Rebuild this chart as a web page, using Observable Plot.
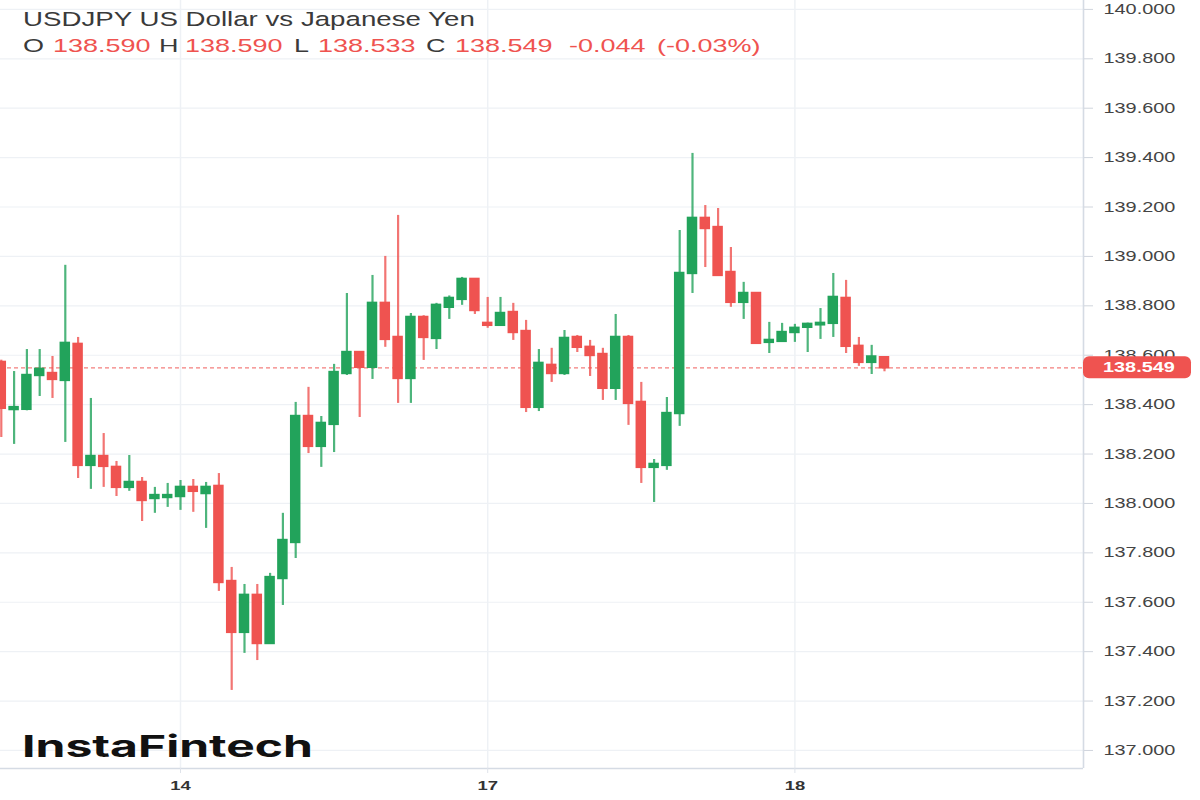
<!DOCTYPE html>
<html>
<head>
<meta charset="utf-8">
<script src="https://cdn.jsdelivr.net/npm/d3@7"></script>
<script src="https://cdn.jsdelivr.net/npm/@observablehq/plot@0.6"></script>
<style>
  html, body { margin: 0; padding: 0; background: #ffffff; }
  #chart { width: 1200px; height: 800px; overflow: hidden; }
</style>
</head>
<body>
<div id="chart"></div>
<script>
// ---- Data: hourly candles, offset in trading hours from "14" 00:00 ----
const hourOffset = [-14,-13,-12,-11,-10,-9,-8,-7,-6,-5,-4,-3,-2,-1,
  0,1,2,3,4,5,6,7,8,9,10,11,12,13,14,15,16,17,18,19,20,21,22,23,
  24,25,26,27,28,29,30,31,32,33,34,35,36,37,38,39,40,41,42,43,44,45,46,47,
  48,49,50,51,52,53,54,55];
const openP = [138.571,138.380,138.381,138.518,138.526,138.498,138.644,138.154,138.190,138.146,138.065,138.085,138.020,138.024,
  138.028,138.065,138.040,138.069,137.684,137.478,137.628,137.433,137.696,137.842,138.352,138.231,138.320,138.526,138.611,138.551,138.810,138.672,138.506,138.753,138.668,138.794,138.826,138.907,
  138.729,138.721,138.773,138.696,138.389,138.559,138.526,138.672,138.632,138.603,138.466,138.672,138.409,138.146,138.154,138.364,138.931,139.154,139.117,138.935,138.814,138.850,138.652,138.656,
  138.692,138.713,138.723,138.729,138.830,138.636,138.571,138.590];
const highP = [138.580,138.534,138.623,138.623,138.595,138.964,138.672,138.425,138.283,138.170,138.194,138.105,138.065,138.081,
  138.093,138.097,138.085,138.121,137.741,137.672,137.672,137.717,137.960,138.409,138.470,138.352,138.563,138.850,138.615,138.923,139.000,139.166,138.769,138.760,138.810,138.840,138.915,138.910,
  138.834,138.834,138.810,138.741,138.623,138.628,138.700,138.680,138.660,138.628,138.765,138.680,138.490,138.178,138.429,139.105,139.417,139.206,139.194,139.036,138.895,138.852,138.733,138.729,
  138.725,138.730,138.789,138.931,138.903,138.672,138.640,138.590];
const lowP = [138.267,138.239,138.375,138.433,138.425,138.247,138.101,138.057,138.065,138.028,138.049,137.927,137.960,137.984,
  137.972,137.964,137.899,137.644,137.243,137.393,137.364,137.430,137.587,137.777,138.202,138.146,138.206,138.518,138.348,138.502,138.632,138.405,138.405,138.579,138.623,138.745,138.802,138.765,
  138.709,138.718,138.660,138.368,138.372,138.490,138.518,138.611,138.514,138.417,138.417,138.316,138.081,138.004,138.134,138.312,138.850,138.955,138.920,138.794,138.745,138.644,138.607,138.655,
  138.652,138.611,138.664,138.672,138.607,138.555,138.522,138.533];
const closeP = [138.385,138.388,138.518,138.543,138.502,138.648,138.154,138.190,138.150,138.065,138.085,138.012,138.032,138.032,
  138.065,138.049,138.065,137.680,137.478,137.628,137.433,137.700,137.850,138.352,138.231,138.324,138.530,138.611,138.551,138.810,138.664,138.506,138.753,138.672,138.802,138.830,138.907,138.781,
  138.721,138.769,138.692,138.389,138.567,138.526,138.668,138.632,138.599,138.466,138.672,138.405,138.146,138.158,138.364,138.931,139.154,139.113,138.923,138.814,138.850,138.648,138.660,138.692,
  138.709,138.725,138.729,138.834,138.636,138.571,138.593,138.549];

const dayTickOffsets = [0, 24, 48];
const dayTickLabels = ["14", "17", "18"];
const priceTicks = [137.0,137.2,137.4,137.6,137.8,138.0,138.2,138.4,138.6,138.8,139.0,139.2,139.4,139.6,139.8,140.0];
const symbolName = "USDJPY US Dollar vs Japanese Yen";
const brand = "InstaFintech";

// ---- Build table ----
const candles = hourOffset.map((t, k) => ({
  t, o: openP[k], h: highP[k], l: lowP[k], c: closeP[k]
}));
const UP = "#22a35b", DOWN = "#ef5350";
const colorOf = d => d.c >= d.o ? UP : DOWN;
const last = candles[candles.length - 1];
const prev = candles[candles.length - 2];
const lastPrice = last.c;

const FONT = "'Liberation Sans', Arial, Helvetica, sans-serif";
const SX = 1.42; // horizontal stretch of the reference's glyphs

const plot = Plot.plot({
  width: 1200,
  height: 800,
  marginLeft: 0,
  marginRight: 117,
  marginTop: 0,
  marginBottom: 32,
  x: { domain: [-14.0625, 70.547], axis: null },
  y: { domain: [136.927, 140.036], axis: null },
  color: { type: "identity" },
  style: { background: "#ffffff", fontFamily: FONT, overflow: "visible" },
  marks: [
    Plot.gridY(priceTicks, { stroke: "#eef1f5", strokeOpacity: 1, strokeWidth: 1.2 }),
    Plot.gridX(dayTickOffsets, { stroke: "#eef1f5", strokeOpacity: 1, strokeWidth: 1.5 }),
    Plot.ruleY([lastPrice], { stroke: DOWN, strokeDasharray: "4,3", strokeOpacity: 0.75, strokeWidth: 1.2 }),
    Plot.ruleX(candles, { x: "t", y1: "l", y2: "h", stroke: colorOf, strokeWidth: 2.2, strokeOpacity: 0.8 }),
    Plot.rect(candles, {
      x1: d => d.t - 0.41, x2: d => d.t + 0.41,
      y1: d => Math.min(d.o, d.c), y2: d => Math.max(d.o, d.c),
      fill: colorOf, insetTop: -1.2, insetBottom: -1.2
    }),
    Plot.ruleX([70.547], { stroke: "#d5dbe4", strokeWidth: 1.6 }),
    Plot.ruleY([136.927], { stroke: "#d5dbe4", strokeWidth: 1.6 }),
    Plot.axisY(priceTicks, {
      anchor: "right", tickSize: 9, tickPadding: 11,
      tickFormat: d3.format(".3f"), fontSize: 14,
      stroke: "#d0d5dd", fill: "#444", label: null
    }),
    Plot.axisX(dayTickOffsets, {
      anchor: "bottom", tickSize: 5, tickPadding: 7,
      tickFormat: d => dayTickLabels[dayTickOffsets.indexOf(d)],
      fontSize: 13, fontWeight: "bold",
      stroke: "#dfe3ea", fill: "#333", label: null
    })
  ]
});

document.getElementById("chart").appendChild(plot);
const svg = d3.select(plot);

// stretch axis labels horizontally like the reference
svg.selectAll('g[aria-label="y-axis tick label"] text, g[aria-label="x-axis tick label"] text').each(function () {
  const t = d3.select(this);
  const tr = t.attr("transform") || "";
  t.attr("transform", tr + ` scale(${SX},1)`);
});
svg.selectAll('g[aria-label="x-axis tick label"] text').attr("font-weight", "bold");

function stretched(x, y, str, { size = 19, weight = 400, fill = "#333", anchor = "start", family = FONT, sx = SX } = {}) {
  const g = svg.append("g").attr("transform", `translate(${x},${y}) scale(${sx},1)`);
  g.append("text")
    .attr("font-family", family)
    .attr("font-size", size)
    .attr("font-weight", weight)
    .attr("fill", fill)
    .attr("text-anchor", anchor)
    .text(str);
  return g;
}

// header
stretched(23, 26, symbolName, { size: 19.5, fill: "#3a3a3a" });
const f3 = d3.format(".3f");
const change = last.c - prev.c;
const pct = change / prev.c * 100;
const headerTokens = [
  ["O", 23, "#3a3a3a"], [f3(last.o), 53, DOWN],
  ["H", 159, "#3a3a3a"], [f3(last.h), 185, DOWN],
  ["L", 294, "#3a3a3a"], [f3(last.l), 318, DOWN],
  ["C", 426, "#3a3a3a"], [f3(last.c), 455, DOWN],
  [change.toFixed(3), 569, DOWN], [`(${pct.toFixed(2)}%)`, 657, DOWN]
];
headerTokens.forEach(([s, x, col]) => stretched(x, 52, s, { size: 19, fill: col }));

// brand
svg.append("text")
  .attr("x", 22).attr("y", 757)
  .attr("text-anchor", "start")
  .attr("font-family", "Inter, 'Open Sans', sans-serif")
  .attr("font-size", 30).attr("font-weight", 700)
  .attr("fill", "#111")
  .attr("textLength", 291).attr("lengthAdjust", "spacingAndGlyphs")
  .text(brand);

// last price label on the axis
const yLast = plot.scale("y").apply(lastPrice);
svg.append("rect")
  .attr("x", 1083).attr("y", yLast - 11).attr("width", 108).attr("height", 22)
  .attr("rx", 6).attr("fill", DOWN);
stretched(1103, yLast + 5, f3(lastPrice), { size: 14, weight: 700, fill: "#ffffff" });
</script>
</body>
</html>
